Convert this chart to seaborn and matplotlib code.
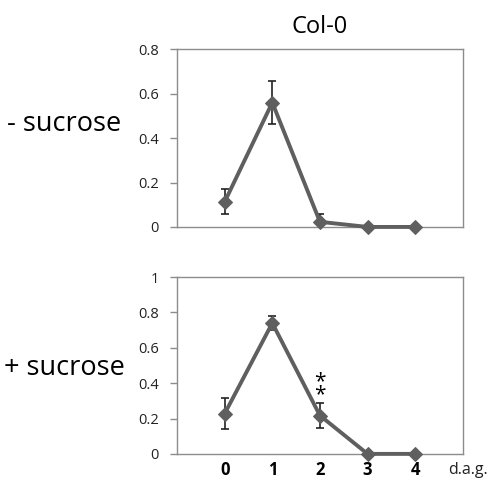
import matplotlib
matplotlib.use("Agg")
import matplotlib.pyplot as plt
import seaborn as sns
import pandas as pd

sns.set_theme(style="white")
plt.rcParams['font.family'] = ['Open Sans', 'DejaVu Sans']

days = [0, 1, 2, 3, 4]
minus_sucrose = [0.113, 0.56, 0.023, 0.0, 0.0]
minus_err = [0.057, 0.095, 0.037, 0.0, 0.0]
plus_sucrose = [0.228, 0.74, 0.217, 0.0, 0.0]
plus_err = [0.087, 0.04, 0.073, 0.0, 0.0]
top_ticks = [0, 0.2, 0.4, 0.6, 0.8]
top_tick_labels = ["0", "0.2", "0.4", "0.6", "0.8"]
bottom_ticks = [0, 0.2, 0.4, 0.6, 0.8, 1]
bottom_tick_labels = ["0", "0.2", "0.4", "0.6", "0.8", "1"]

line_color = "#5f5f5f"
frame_color = "#8c8c8c"

fig = plt.figure(figsize=(4.96, 4.87), dpi=100)
ax_top = fig.add_axes([0.357, 0.534, 0.576, 0.365])
ax_bot = fig.add_axes([0.357, 0.068, 0.576, 0.363])


def draw_panel(ax, values, errs, ymax, ticks, ticklabels):
    df = pd.DataFrame({"day": days, "value": values})
    sns.lineplot(data=df, x="day", y="value", ax=ax, color=line_color,
                 linewidth=2.8, marker="D", markersize=7.5,
                 markeredgecolor=line_color, clip_on=False, zorder=3)
    ax.errorbar(days, values, yerr=errs, fmt="none", ecolor="#222222",
                elinewidth=1.2, capsize=3, capthick=1.2, zorder=2)
    ax.set_xlim(-1, 5)
    ax.set_ylim(0, ymax)
    ax.set_yticks(ticks)
    ax.set_yticklabels(ticklabels)
    ax.set_xlabel("")
    ax.set_ylabel("")
    for sp in ax.spines.values():
        sp.set_color(frame_color)
        sp.set_linewidth(1.0)
    ax.tick_params(axis="y", which="both", left=True, length=5, width=1,
                   color=frame_color, labelsize=10.5, labelcolor="#222222", pad=8)


draw_panel(ax_top, minus_sucrose, minus_err, 0.8, top_ticks, top_tick_labels)
ax_top.set_xticks([])

draw_panel(ax_bot, plus_sucrose, plus_err, 1.0, bottom_ticks, bottom_tick_labels)
ax_bot.set_xticks(days)
ax_bot.set_xticklabels([str(d) for d in days], fontweight="bold", fontsize=12)
ax_bot.tick_params(axis="x", bottom=False, length=0, pad=5, labelcolor="black")

# significance marks above day 2
ax_bot.text(2, 0.37, "*\n*", ha="center", va="center", fontsize=15,
            linespacing=0.5, color="black")

fig.text(0.903, 0.035, "d.a.g.", fontsize=11.5, color="#222222", va="center", ha="left")
fig.text(0.645, 0.945, "Col-0", fontsize=17, ha="center", va="center", color="black")
fig.text(0.015, 0.745, "- sucrose", fontsize=19.5, ha="left", va="center", color="black")
fig.text(0.008, 0.245, "+ sucrose", fontsize=19.5, ha="left", va="center", color="black")

fig.savefig("out.png", dpi=100, facecolor="white")
